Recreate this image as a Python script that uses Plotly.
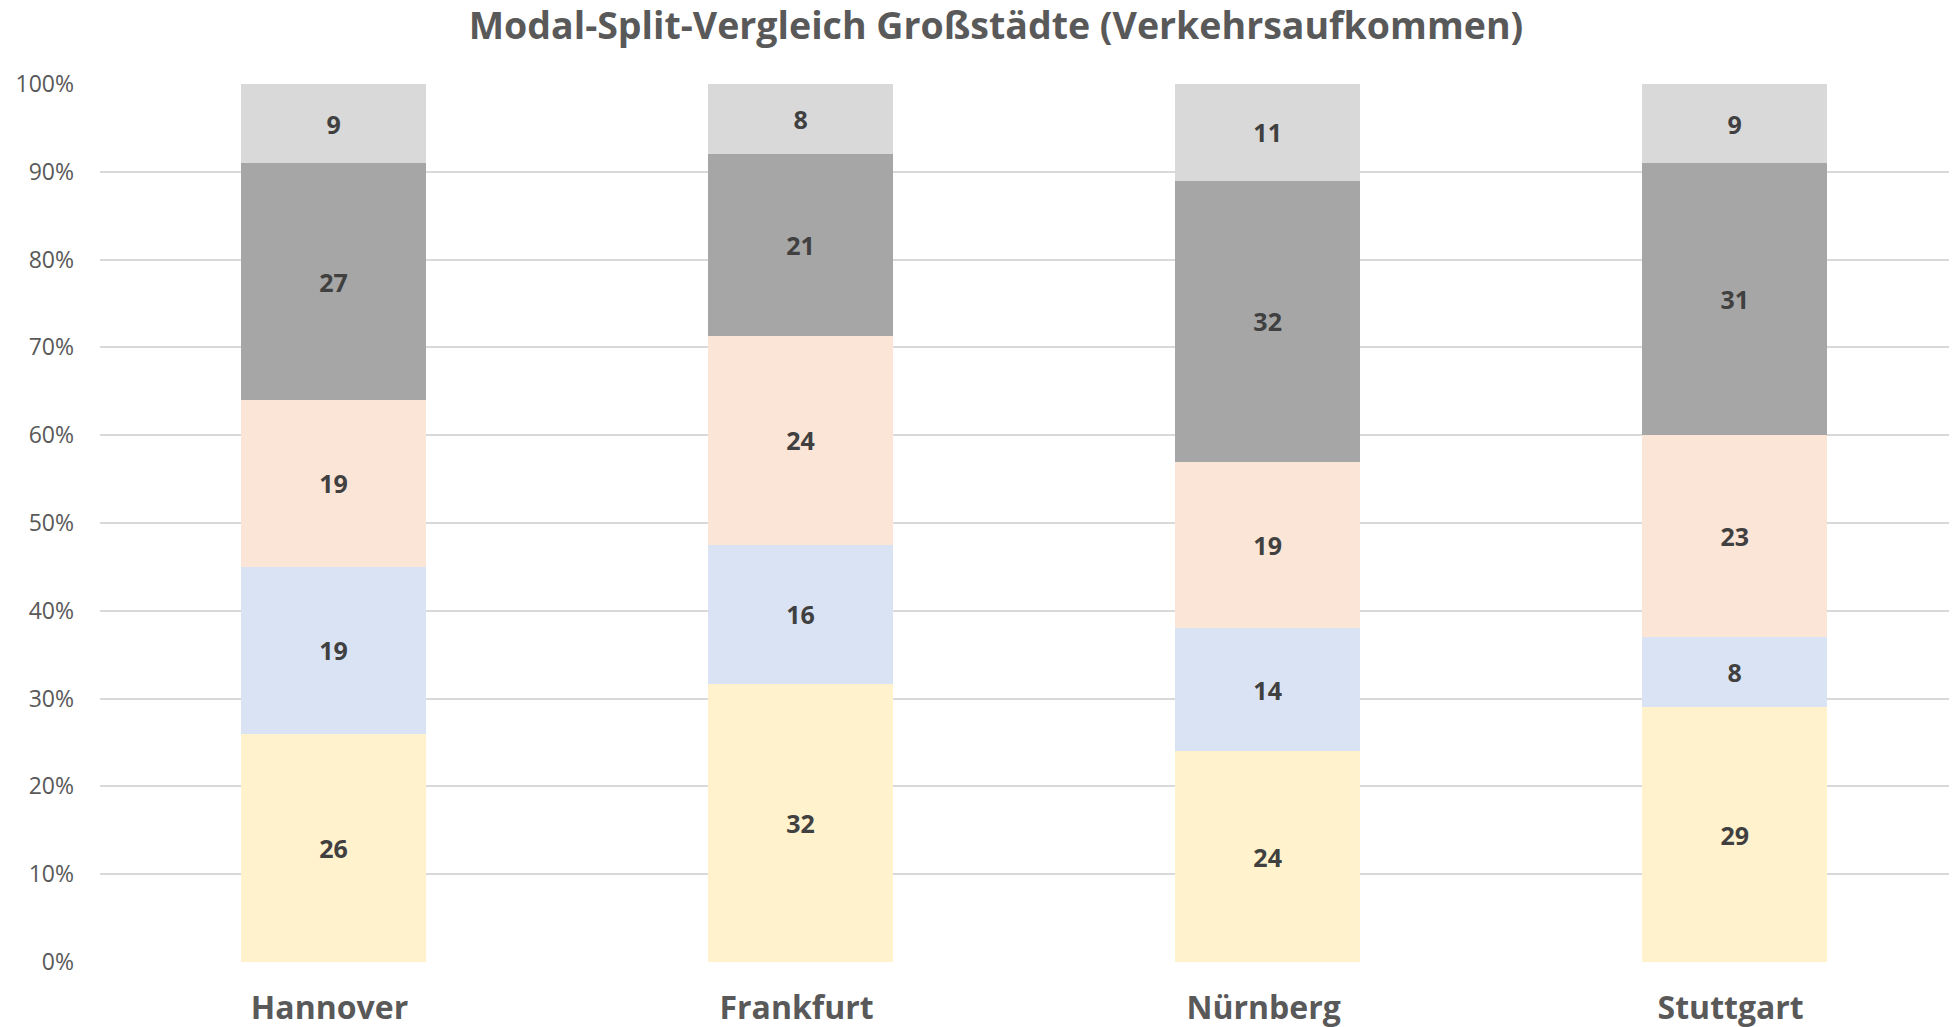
import plotly.graph_objects as go

cities = ["Hannover", "Frankfurt", "Nürnberg", "Stuttgart"]
series_names = ["Fuß", "Fahrrad", "ÖPNV", "MIV (Fahrer)", "MIV (Mitfahrer)"]
fuss = [26, 32, 24, 29]
rad = [19, 16, 14, 8]
oepnv = [19, 24, 19, 23]
miv_fahrer = [27, 21, 32, 31]
miv_mitfahrer = [9, 8, 11, 9]
colors = ["#FFF2CC", "#DAE3F3", "#FBE5D6", "#A6A6A6", "#D9D9D9"]
y_ticks = [0, 10, 20, 30, 40, 50, 60, 70, 80, 90, 100]
y_ticklabels = [f"{t}%" for t in y_ticks]

FONT = "Open Sans"
fig = go.Figure()
for name, vals, col in zip(series_names, [fuss, rad, oepnv, miv_fahrer, miv_mitfahrer], colors):
    fig.add_trace(go.Bar(
        x=cities, y=vals, name=name, text=vals,
        texttemplate="<b>%{text}</b>", textposition="inside",
        insidetextanchor="middle",
        textfont=dict(family=FONT, size=25, color="#404040"),
        marker=dict(color=col, line=dict(width=0)),
        width=0.397,
    ))

# page body has an 8px margin; figure compensates for it
fig.update_layout(
    barmode="stack", barnorm="percent",
    width=1949, height=1019,
    paper_bgcolor="white", plot_bgcolor="white",
    showlegend=False,
    margin=dict(l=92, r=0, t=76, b=65),
    title=dict(text="<b>Modal-Split-Vergleich Großstädte (Verkehrsaufkommen)</b>",
               x=988/1949, xanchor="center", xref="container",
               y=1-18/1019, yanchor="middle", yref="container",
               font=dict(family=FONT, size=37.5, color="#595959")),
    uniformtext=dict(mode=False),
    font=dict(family=FONT),
)
fig.update_xaxes(range=[-0.5, 3.476], showgrid=False, showline=False, zeroline=False,
                 ticks="", ticklabelstandoff=24, ticklabelshift=-4,
                 tickfont=dict(family=FONT, size=32, color="#595959"),
                 tickvals=cities, ticktext=[f"<b>{c}</b>" for c in cities])
fig.update_yaxes(range=[0, 100], tickvals=y_ticks, ticktext=y_ticklabels,
                 showgrid=True, gridcolor="#D9D9D9", gridwidth=2,
                 zeroline=False, showline=False, ticks="", ticklabelstandoff=25,
                 tickfont=dict(family=FONT, size=23, color="#595959"))
fig.write_html("out.html")
